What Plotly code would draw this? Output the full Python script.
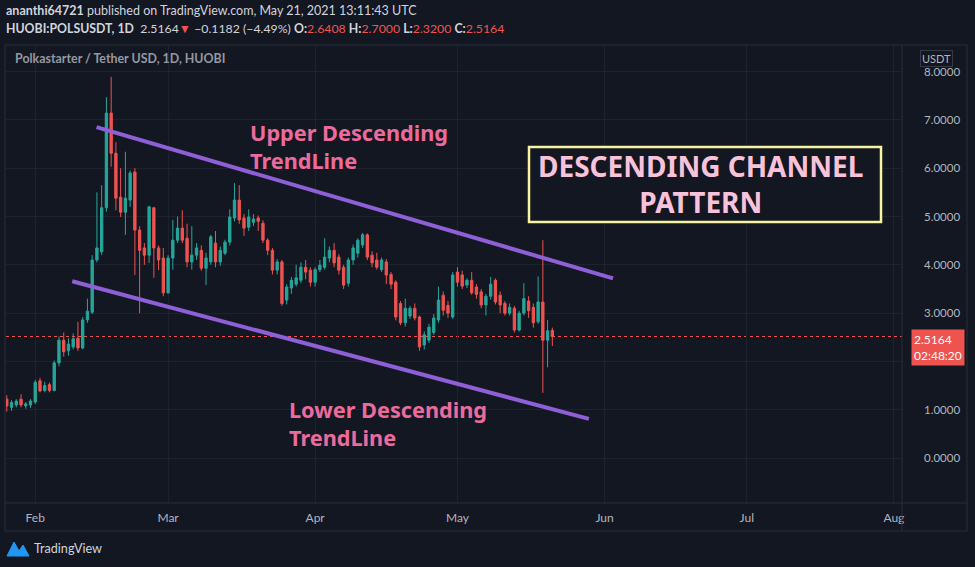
import pandas as pd
import plotly.graph_objects as go

# ---------------- data ----------------
start_date = "2021-01-26"
opens = [1.22, 1.05, 1.10, 1.22, 1.08, 1.10, 1.16, 1.60, 1.40, 1.52,
         1.40, 1.97, 2.44, 2.22, 2.30, 2.48, 2.28, 2.86, 3.02, 4.10,
         4.27, 5.18, 7.14, 6.31, 5.40, 5.09, 5.34, 5.92, 4.72, 4.35,
         4.20, 5.18, 4.35, 4.14, 3.42, 4.14, 4.51, 4.76, 4.55, 4.06,
         4.20, 4.30, 3.93, 4.06, 4.45, 4.06, 4.24, 4.47, 4.97, 5.34,
         4.97, 4.78, 4.88, 4.97, 4.86, 4.51, 4.30, 3.89, 4.06, 3.27,
         3.52, 3.60, 3.68, 3.95, 3.89, 3.64, 3.90, 3.95, 4.14, 4.30,
         4.16, 3.95, 3.62, 4.10, 4.24, 4.41, 4.62, 4.20, 4.10, 3.90,
         4.06, 3.80, 3.64, 3.20, 2.80, 2.94, 3.10, 2.92, 2.34, 2.44,
         2.60, 2.86, 3.37, 3.16, 2.92, 3.85, 3.79, 3.58, 3.68, 3.54,
         3.44, 3.17, 3.35, 3.68, 3.37, 3.20, 3.00, 3.10, 2.65, 3.00,
         3.25, 3.12, 2.82, 3.23, 2.44, 2.6408]
highs = [1.30, 1.20, 1.22, 1.32, 1.16, 1.22, 1.62, 1.66, 1.58, 1.56,
         2.02, 2.52, 2.60, 2.48, 2.58, 2.82, 2.92, 3.30, 4.20, 5.50,
         5.65, 7.47, 7.89, 6.54, 6.00, 6.34, 5.95, 6.00, 4.80, 4.45,
         5.22, 5.20, 4.40, 4.35, 4.20, 4.93, 5.00, 5.13, 4.85, 4.80,
         4.45, 4.40, 4.25, 4.62, 4.70, 4.38, 4.52, 5.15, 5.69, 5.65,
         5.05, 5.15, 5.05, 5.02, 4.92, 4.55, 4.35, 4.12, 4.10, 3.60,
         3.75, 4.00, 4.05, 4.10, 3.95, 3.95, 4.10, 4.55, 4.38, 4.45,
         4.22, 4.00, 4.15, 4.42, 4.55, 4.66, 4.65, 4.28, 4.25, 4.15,
         4.12, 3.85, 3.68, 3.25, 3.30, 3.15, 3.20, 2.95, 2.62, 2.78,
         2.98, 3.55, 3.45, 3.25, 3.85, 3.95, 3.88, 3.72, 3.85, 3.60,
         3.50, 3.40, 3.75, 3.72, 3.45, 3.25, 3.20, 3.15, 3.05, 3.62,
         3.35, 3.20, 3.76, 4.51, 2.86, 2.70]
lows = [0.96, 0.98, 1.05, 1.05, 1.02, 1.04, 1.12, 1.36, 1.36, 1.36,
        1.38, 1.90, 2.10, 2.12, 2.25, 2.22, 2.25, 2.80, 2.98, 4.05,
        4.20, 5.10, 6.03, 5.13, 4.99, 4.62, 5.20, 3.79, 3.00, 4.00,
        4.04, 3.73, 3.89, 3.35, 3.40, 3.90, 4.45, 4.45, 3.95, 3.90,
        4.10, 3.88, 3.58, 4.00, 3.95, 3.98, 4.20, 4.40, 4.90, 4.85,
        4.60, 4.70, 4.80, 4.70, 4.45, 4.20, 3.80, 3.80, 3.15, 3.18,
        3.40, 3.55, 3.62, 3.70, 3.55, 3.55, 3.85, 3.90, 4.05, 3.95,
        3.80, 3.50, 3.55, 4.00, 4.15, 4.35, 4.10, 3.95, 3.90, 3.85,
        3.60, 3.50, 2.85, 2.75, 2.72, 2.88, 2.85, 2.22, 2.25, 2.38,
        2.55, 2.80, 2.95, 2.90, 2.88, 3.55, 3.50, 3.52, 3.38, 3.30,
        3.10, 2.95, 3.28, 3.18, 3.00, 2.95, 2.95, 2.60, 2.62, 2.95,
        2.90, 2.70, 2.78, 1.35, 1.88, 2.32]
closes = [1.08, 1.15, 1.18, 1.10, 1.12, 1.18, 1.57, 1.39, 1.50, 1.40,
          1.97, 2.44, 2.20, 2.36, 2.47, 2.28, 2.86, 3.04, 4.10, 4.35,
          5.18, 7.14, 6.31, 5.38, 5.09, 5.38, 5.90, 4.72, 4.30, 4.20,
          5.20, 4.35, 4.10, 3.42, 4.14, 4.51, 4.76, 4.51, 4.06, 4.20,
          4.35, 3.93, 4.14, 4.58, 4.06, 4.30, 4.47, 4.99, 5.34, 4.93,
          4.76, 4.99, 4.95, 4.90, 4.51, 4.30, 3.89, 4.06, 3.20, 3.54,
          3.68, 3.73, 3.95, 3.85, 3.64, 3.90, 3.99, 4.16, 4.30, 4.04,
          3.89, 3.58, 4.10, 4.35, 4.51, 4.62, 4.16, 4.04, 3.95, 4.10,
          3.79, 3.60, 2.92, 2.80, 3.10, 3.10, 2.90, 2.30, 2.55, 2.71,
          2.90, 3.27, 3.06, 3.00, 3.79, 3.64, 3.56, 3.68, 3.42, 3.39,
          3.17, 3.35, 3.60, 3.23, 3.17, 3.00, 3.12, 2.65, 3.00, 3.30,
          3.05, 2.80, 3.23, 2.44, 2.6346, 2.5164]

upper_trend_dates = ["2021-02-13 22:00", "2021-06-02 19:00"]
upper_trend_vals = [6.85, 3.72]
lower_trend_dates = ["2021-02-08 19:00", "2021-05-28 17:00"]
lower_trend_vals = [3.66, 0.81]

last_price = 2.5164
countdown = "02:48:20"
y_ticks = [0, 1, 2, 3, 4, 5, 6, 7, 8]
x_range = ["2021-01-25 20:00", "2021-08-02 17:00"]
y_range = [-0.93, 8.55]

dates = pd.date_range(start_date, periods=len(opens), freq="D")

# ---------------- styling ----------------
BG = "#131722"
GRID = "#1e222d"
BORDER = "#2a2e39"
TXT = "#b2b5be"
UP = "#26a69a"
DOWN = "#ef5350"
PURPLE = "#8f5fd8"
PINK = "#ec6b9c"

W, H = 975, 567
L, R, T, B = 6, 902, 45, 503


def px(xp):
    return (xp - L) / (R - L)


def py(yp):
    return (B - yp) / (B - T)


fig = go.Figure()
fig.add_trace(go.Candlestick(
    x=dates, open=opens, high=highs, low=lows, close=closes,
    increasing=dict(line=dict(color=UP, width=1), fillcolor=UP),
    decreasing=dict(line=dict(color=DOWN, width=1), fillcolor=DOWN),
    whiskerwidth=0, showlegend=False, hoverinfo="skip",
))

# trendlines
fig.add_trace(go.Scatter(x=upper_trend_dates, y=upper_trend_vals, mode="lines",
                         line=dict(color=PURPLE, width=4), showlegend=False,
                         hoverinfo="skip"))
fig.add_trace(go.Scatter(x=lower_trend_dates, y=lower_trend_vals, mode="lines",
                         line=dict(color=PURPLE, width=4), showlegend=False,
                         hoverinfo="skip"))

shapes = []
# last price dotted line
shapes.append(dict(type="line", xref="paper", x0=0, x1=1, yref="y",
                   y0=last_price, y1=last_price,
                   line=dict(color=DOWN, width=1, dash="dot"), layer="below"))
# pane borders
shapes.append(dict(type="rect", xref="paper", yref="paper",
                   x0=px(5), x1=px(967), y0=py(531), y1=py(45),
                   line=dict(color=BORDER, width=1)))
shapes.append(dict(type="line", xref="paper", yref="paper",
                   x0=px(902), x1=px(902), y0=py(531), y1=py(45),
                   line=dict(color=BORDER, width=1)))
shapes.append(dict(type="line", xref="paper", yref="paper",
                   x0=px(5), x1=px(967), y0=py(503), y1=py(503),
                   line=dict(color=BORDER, width=1)))
# pattern box
shapes.append(dict(type="rect", xref="paper", yref="paper",
                   x0=px(529), x1=px(881), y0=py(222), y1=py(147),
                   line=dict(color="#f7f3a1", width=2.5), fillcolor=BG))
# TradingView logo
logo = "M {},{} L {},{} L {},{} L {},{} L {},{} L {},{} Z".format(
    px(7), py(556), px(14), py(542), px(19), py(551),
    px(23), py(545), px(29), py(556), px(7), py(556))
shapes.append(dict(type="path", xref="paper", yref="paper", path=logo,
                   fillcolor="#2196f3", line=dict(color="#2196f3", width=1)))

ann = []
ann.append(dict(xref="paper", yref="paper", x=px(4), y=py(11), xanchor="left",
                yanchor="middle", showarrow=False,
                font=dict(family="Lato, Noto Sans, sans-serif", size=12.5, color="#d1d4dc"),
                text="<b>ananthi64721</b> published on TradingView.com, May 21, 2021 13:11:43 UTC"))
red = lambda s: f"<span style='color:{DOWN}'>{s}</span>"
ann.append(dict(xref="paper", yref="paper", x=px(4), y=py(29), xanchor="left",
                yanchor="middle", showarrow=False,
                font=dict(family="Lato, Noto Sans, sans-serif", size=12.3, color="#d1d4dc"),
                text=("<b>HUOBI:POLSUSDT, 1D</b>  2.5164" + red("▼") +
                      " −0.1182 (−4.49%) <b>O:</b>" + red("2.6408") +
                      " <b>H:</b>" + red("2.7000") + " <b>L:</b>" + red("2.3200") +
                      " <b>C:</b>" + red("2.5164"))))
ann.append(dict(xref="paper", yref="paper", x=px(13), y=py(59), xanchor="left",
                yanchor="middle", showarrow=False,
                font=dict(family="Lato, Noto Sans, sans-serif", size=12.4, color="#9598a1"),
                text="<b>Polkastarter / Tether USD, 1D, HUOBI</b>"))
# USDT label
ann.append(dict(xref="paper", yref="paper", x=px(936), y=py(58), xanchor="center",
                yanchor="middle", showarrow=False,
                font=dict(family="Lato, sans-serif", size=11, color=TXT),
                text="USDT", bordercolor="#363a45", borderwidth=1, borderpad=1,
                bgcolor=BG))
# last price label
ann.append(dict(xref="paper", yref="y", x=px(911), y=last_price, xanchor="left",
                yanchor="top", yshift=8, showarrow=False, align="left",
                font=dict(family="Lato, sans-serif", size=12, color="white"),
                text=f"{last_price:.4f}<br>{countdown}", bgcolor=DOWN, borderpad=2))
# text annotations
tl_font = dict(family="Noto Sans, sans-serif", size=21.7, color=PINK)
ann.append(dict(xref="paper", yref="paper", x=px(248), y=py(116), xanchor="left",
                yanchor="top", showarrow=False, align="left", font=tl_font,
                text="<b>Upper Descending<br>TrendLine</b>"))
ann.append(dict(xref="paper", yref="paper", x=px(287), y=py(393), xanchor="left",
                yanchor="top", showarrow=False, align="left", font=tl_font,
                text="<b>Lower Descending<br>TrendLine</b>"))
ann.append(dict(xref="paper", yref="paper", x=px(700), y=py(184), xanchor="center",
                yanchor="middle", showarrow=False, align="center",
                font=dict(family="Noto Sans, sans-serif", size=28, color="#f8c3da"),
                text="<b>DESCENDING CHANNEL<br>PATTERN</b>"))
ann.append(dict(xref="paper", yref="paper", x=px(32), y=py(548), xanchor="left",
                yanchor="middle", showarrow=False,
                font=dict(family="Lato, sans-serif", size=12.6, color="#d1d4dc"),
                text="TradingView"))

fig.update_layout(
    width=W, height=H,
    margin=dict(l=L, r=W - R, t=T, b=H - B),
    paper_bgcolor=BG, plot_bgcolor=BG,
    shapes=shapes, annotations=ann,
    xaxis=dict(range=x_range, type="date", rangeslider=dict(visible=False),
               showgrid=True, gridcolor=GRID, gridwidth=1,
               tick0="2021-02-01", dtick="M1", tickformat="%b",
               tickfont=dict(family="Lato, sans-serif", size=12, color=TXT),
               ticks="", ticklabelstandoff=6, zeroline=False, showline=False,
               fixedrange=True),
    yaxis=dict(range=y_range, side="right", tickvals=y_ticks, tickformat=".4f",
               showgrid=True, gridcolor=GRID, gridwidth=1,
               tickfont=dict(family="Lato, sans-serif", size=11.5, color=TXT),
               ticks="", ticklabelstandoff=21, zeroline=False, showline=False,
               fixedrange=True),
)

fig.write_html(
    "out.html",
    config={"displayModeBar": False},
    post_script=("document.body.style.margin='0';"
                 "document.body.style.background='#131722';"
                 "document.body.style.overflow='hidden';"),
)
